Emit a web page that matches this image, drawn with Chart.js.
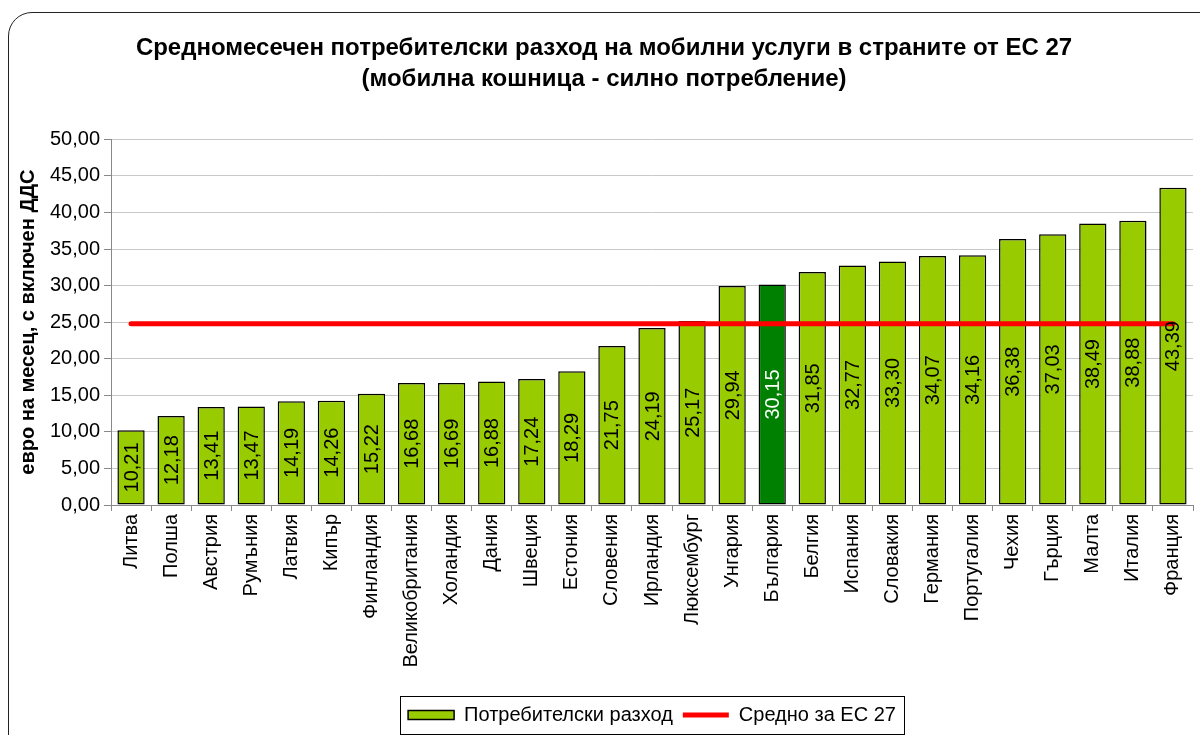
<!DOCTYPE html>
<html>
<head>
<meta charset="utf-8">
<script src="https://cdn.jsdelivr.net/npm/chart.js@4.4.1/dist/chart.umd.min.js"></script>
<style>
body{margin:0;background:#fff;overflow:hidden;}
#wrap{position:relative;width:1200px;height:735px;}
#frame{position:absolute;left:8px;top:12px;width:1220px;height:760px;border:1.5px solid #222;border-radius:24px;pointer-events:none;}
canvas{position:absolute;left:0;top:0;}
</style>
</head>
<body>
<div id="wrap">
<canvas id="c" width="1200" height="735"></canvas>
<div id="frame"></div>
</div>
<script>
const countries=["Литва","Полша","Австрия","Румъния","Латвия","Кипър","Финландия","Великобритания","Холандия","Дания","Швеция","Естония","Словения","Ирландия","Люксембург","Унгария","България","Белгия","Испания","Словакия","Германия","Португалия","Чехия","Гърция","Малта","Италия","Франция"];
const spending=[10.21,12.18,13.41,13.47,14.19,14.26,15.22,16.68,16.69,16.88,17.24,18.29,21.75,24.19,25.17,29.94,30.15,31.85,32.77,33.30,34.07,34.16,36.38,37.03,38.49,38.88,43.39];
const averageEU=[24.8,24.8,24.8,24.8,24.8,24.8,24.8,24.8,24.8,24.8,24.8,24.8,24.8,24.8,24.8,24.8,24.8,24.8,24.8,24.8,24.8,24.8,24.8,24.8,24.8,24.8,24.8];
const highlight="България";

const FONT="'Liberation Sans', Arial, sans-serif";
const fmt=v=>v.toFixed(2).replace(".",",");

const barLabels={
id:"barLabels",
afterDatasetsDraw(chart){
const ctx=chart.ctx;
const meta=chart.getDatasetMeta(0);
ctx.save();
ctx.font="20px "+FONT;
ctx.textAlign="center";
ctx.textBaseline="middle";
meta.data.forEach((bar,i)=>{
const cy=(bar.y+bar.base)/2;
ctx.save();
ctx.translate(bar.x,cy);
ctx.rotate(-Math.PI/2);
ctx.fillStyle=countries[i]===highlight?"#ffffff":"#000000";
ctx.fillText(fmt(spending[i]),0,1);
ctx.restore();
});
ctx.restore();
}
};

// legend sits right of centre in the original, with a thin frame round it
const legendBox={
id:"legendBox",
afterLayout(chart){
const lg=chart.legend,dx=48;
lg.left+=dx;lg.right+=dx;
(lg.legendHitBoxes||[]).forEach(h=>{h.left+=dx;});
},
afterDraw(chart){
const boxes=chart.legend.legendHitBoxes;
if(!boxes||!boxes.length)return;
let l=Infinity,r=-Infinity,t=Infinity,b=-Infinity;
boxes.forEach(h=>{l=Math.min(l,h.left);r=Math.max(r,h.left+h.width);t=Math.min(t,h.top);b=Math.max(b,h.top+h.height);});
const ctx=chart.ctx;
ctx.save();
ctx.strokeStyle="#000";
ctx.lineWidth=1;
ctx.strokeRect(Math.round(l-8)+0.5,Math.round(t-9)+0.5,Math.round(r-l+16),Math.round(b-t+18));
ctx.restore();
}
};

new Chart(document.getElementById("c"),{
type:"bar",
data:{
labels:countries,
datasets:[
{label:"Потребителски разход",data:spending,order:2,
backgroundColor:countries.map(c=>c===highlight?"#008000":"#99CC00"),
borderColor:"#000",borderWidth:1.5,borderSkipped:false,
barPercentage:0.68,categoryPercentage:1,pointStyle:"rect"},
{label:"Средно за ЕС 27",type:"line",data:averageEU,order:1,
borderColor:"#FF0000",backgroundColor:"#FF0000",borderWidth:5,
pointRadius:0,pointStyle:"line",borderCapStyle:"round"}
]
},
options:{
responsive:false,
animation:false,
layout:{padding:{left:10,right:2,top:0,bottom:0}},
plugins:{
title:{display:true,
text:["Средномесечен потребителски разход на мобилни услуги в страните от ЕС 27","(мобилна кошница - силно потребление)"],
font:{family:FONT,size:24,weight:"bold",lineHeight:1.3},
color:"#000",padding:{top:33,bottom:44}},
legend:{position:"bottom",
labels:{usePointStyle:true,pointStyleWidth:46,boxHeight:9,padding:10,color:"#000",
sort:(a,b)=>a.datasetIndex-b.datasetIndex,
font:{family:FONT,size:20}}},
tooltip:{enabled:false}
},
scales:{
x:{
grid:{drawOnChartArea:false,drawTicks:true,tickLength:6,color:"#888",offset:true},
border:{color:"#888"},
ticks:{minRotation:90,maxRotation:90,color:"#000",autoSkip:false,
font:{family:FONT,size:20}},
afterFit(s){s.height=190;}
},
y:{
min:0,max:50,
ticks:{stepSize:5,color:"#000",padding:4,callback:v=>fmt(v),
font:{family:FONT,size:20}},
grid:{color:"#c8c8c8",tickLength:7,tickColor:"#888"},
border:{color:"#888"},
title:{display:true,text:"евро на месец, с включен ДДС",color:"#000",
font:{family:FONT,size:20,weight:"bold"},padding:{top:6,bottom:0}},
afterFit(s){s.width=101;}
}
}
},
plugins:[barLabels,legendBox]
});
</script>
</body>
</html>
